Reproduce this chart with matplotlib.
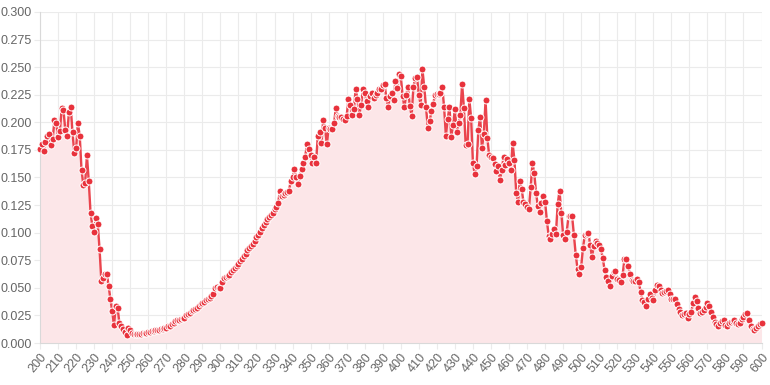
import matplotlib.pyplot as plt
import numpy as np

# wavelength in nm, one reading per nm
wavelengths = list(range(200, 601))

absorbance = [
    # 200 - 249
    0.176, 0.180, 0.174, 0.182, 0.188, 0.189, 0.179, 0.185, 0.202, 0.199,
    0.187, 0.192, 0.213, 0.211, 0.193, 0.188, 0.209, 0.214, 0.191, 0.172,
    0.177, 0.199, 0.188, 0.157, 0.143, 0.145, 0.170, 0.147, 0.118, 0.106,
    0.101, 0.113, 0.108, 0.085, 0.056, 0.059, 0.063, 0.063, 0.052, 0.040,
    0.029, 0.016, 0.034, 0.032, 0.018, 0.015, 0.013, 0.010, 0.007, 0.014,
    # 250 - 299
    0.012, 0.009, 0.008, 0.008, 0.008, 0.008, 0.008, 0.009, 0.009, 0.009,
    0.010, 0.010, 0.011, 0.011, 0.012, 0.012, 0.012, 0.013, 0.013, 0.014,
    0.014, 0.015, 0.015, 0.017, 0.018, 0.020, 0.021, 0.021, 0.022, 0.023,
    0.023, 0.025, 0.026, 0.027, 0.029, 0.030, 0.031, 0.032, 0.034, 0.035,
    0.036, 0.037, 0.039, 0.040, 0.041, 0.043, 0.044, 0.050, 0.051, 0.050,
    # 300 - 349
    0.050, 0.055, 0.059, 0.060, 0.061, 0.062, 0.064, 0.066, 0.068, 0.070,
    0.072, 0.074, 0.076, 0.079, 0.081, 0.084, 0.086, 0.088, 0.090, 0.092,
    0.096, 0.098, 0.101, 0.104, 0.107, 0.110, 0.112, 0.114, 0.116, 0.118,
    0.121, 0.123, 0.127, 0.138, 0.133, 0.134, 0.136, 0.137, 0.138, 0.147,
    0.150, 0.158, 0.150, 0.144, 0.151, 0.158, 0.163, 0.169, 0.180, 0.176,
    # 350 - 399
    0.170, 0.163, 0.169, 0.163, 0.188, 0.191, 0.181, 0.202, 0.195, 0.180,
    0.195, 0.194, 0.194, 0.199, 0.213, 0.206, 0.205, 0.205, 0.203, 0.202,
    0.206, 0.221, 0.216, 0.207, 0.212, 0.230, 0.221, 0.207, 0.216, 0.230,
    0.227, 0.219, 0.214, 0.224, 0.227, 0.222, 0.225, 0.227, 0.230, 0.230,
    0.234, 0.235, 0.222, 0.214, 0.224, 0.227, 0.220, 0.237, 0.231, 0.244,
    # 400 - 449
    0.242, 0.224, 0.214, 0.225, 0.232, 0.215, 0.206, 0.232, 0.240, 0.241,
    0.225, 0.216, 0.248, 0.232, 0.214, 0.195, 0.201, 0.210, 0.217, 0.225,
    0.226, 0.226, 0.227, 0.232, 0.214, 0.188, 0.203, 0.214, 0.187, 0.198,
    0.212, 0.191, 0.199, 0.207, 0.235, 0.213, 0.179, 0.180, 0.221, 0.204,
    0.163, 0.153, 0.160, 0.193, 0.205, 0.177, 0.189, 0.220, 0.186, 0.170,
    # 450 - 499
    0.169, 0.168, 0.162, 0.156, 0.160, 0.148, 0.157, 0.169, 0.161, 0.167,
    0.163, 0.157, 0.181, 0.166, 0.136, 0.128, 0.147, 0.140, 0.128, 0.126,
    0.123, 0.121, 0.141, 0.163, 0.154, 0.136, 0.124, 0.119, 0.127, 0.133,
    0.128, 0.111, 0.097, 0.094, 0.099, 0.103, 0.099, 0.126, 0.138, 0.118,
    0.098, 0.094, 0.101, 0.115, 0.115, 0.115, 0.098, 0.080, 0.067, 0.063,
    # 500 - 549
    0.069, 0.086, 0.098, 0.099, 0.100, 0.089, 0.078, 0.088, 0.092, 0.091,
    0.089, 0.085, 0.077, 0.066, 0.060, 0.056, 0.052, 0.061, 0.064, 0.065,
    0.058, 0.057, 0.055, 0.062, 0.076, 0.076, 0.070, 0.063, 0.057, 0.056,
    0.056, 0.058, 0.055, 0.046, 0.039, 0.037, 0.034, 0.040, 0.044, 0.041,
    0.039, 0.048, 0.053, 0.052, 0.048, 0.045, 0.046, 0.047, 0.048, 0.044,
    # 550 - 600
    0.040, 0.040, 0.040, 0.035, 0.031, 0.028, 0.025, 0.026, 0.027, 0.023,
    0.026, 0.028, 0.036, 0.042, 0.038, 0.032, 0.027, 0.028, 0.030, 0.033,
    0.036, 0.034, 0.028, 0.024, 0.019, 0.017, 0.015, 0.018, 0.020, 0.021,
    0.016, 0.015, 0.018, 0.019, 0.020, 0.021, 0.018, 0.017, 0.018, 0.022,
    0.024, 0.026, 0.027, 0.021, 0.015, 0.013, 0.012, 0.014, 0.015, 0.017,
    0.018,
]

x_ticks = list(range(200, 601, 10))
y_ticks = [i * 0.025 for i in range(13)]

line_color = '#e8323c'
fill_color = '#fce6e8'
grid_color = '#ebebeb'
text_color = '#666666'


def main():
    plt.rcParams['font.family'] = ['Liberation Sans', 'DejaVu Sans']

    fig = plt.figure(figsize=(7.7, 3.85), dpi=100)
    ax = fig.add_axes([0.052, 0.109, 0.937, 0.860])

    ax.fill_between(wavelengths, absorbance, 0, color=fill_color, lw=0, zorder=1)
    ax.plot(wavelengths, absorbance, color=line_color, lw=1.7, alpha=0.9, zorder=2)
    ax.plot(wavelengths, absorbance, ls='none', marker='o', ms=5,
            mfc=line_color, mec='white', mew=0.7, zorder=3, clip_on=False)

    ax.set_xlim(200, 600)
    ax.set_ylim(0, 0.3)
    ax.set_xticks(x_ticks)
    ax.set_yticks(y_ticks)
    ax.set_yticklabels(['{:.3f}'.format(v) for v in y_ticks])
    ax.set_xticklabels([str(v) for v in x_ticks], rotation=50,
                       ha='right', rotation_mode='anchor')

    ax.grid(True, color=grid_color, lw=0.8, zorder=0)
    ax.set_axisbelow(True)
    for side in ['top', 'right']:
        ax.spines[side].set_visible(False)
    for side in ['left', 'bottom']:
        ax.spines[side].set_color('#d9d9d9')
        ax.spines[side].set_linewidth(0.8)
    ax.tick_params(axis='both', colors=grid_color, length=4, width=0.8,
                   labelcolor=text_color, labelsize=9)
    ax.tick_params(axis='x', pad=2)
    ax.tick_params(axis='y', pad=2)

    fig.savefig('out.png', dpi=100)


if __name__ == "__main__":
    main()
